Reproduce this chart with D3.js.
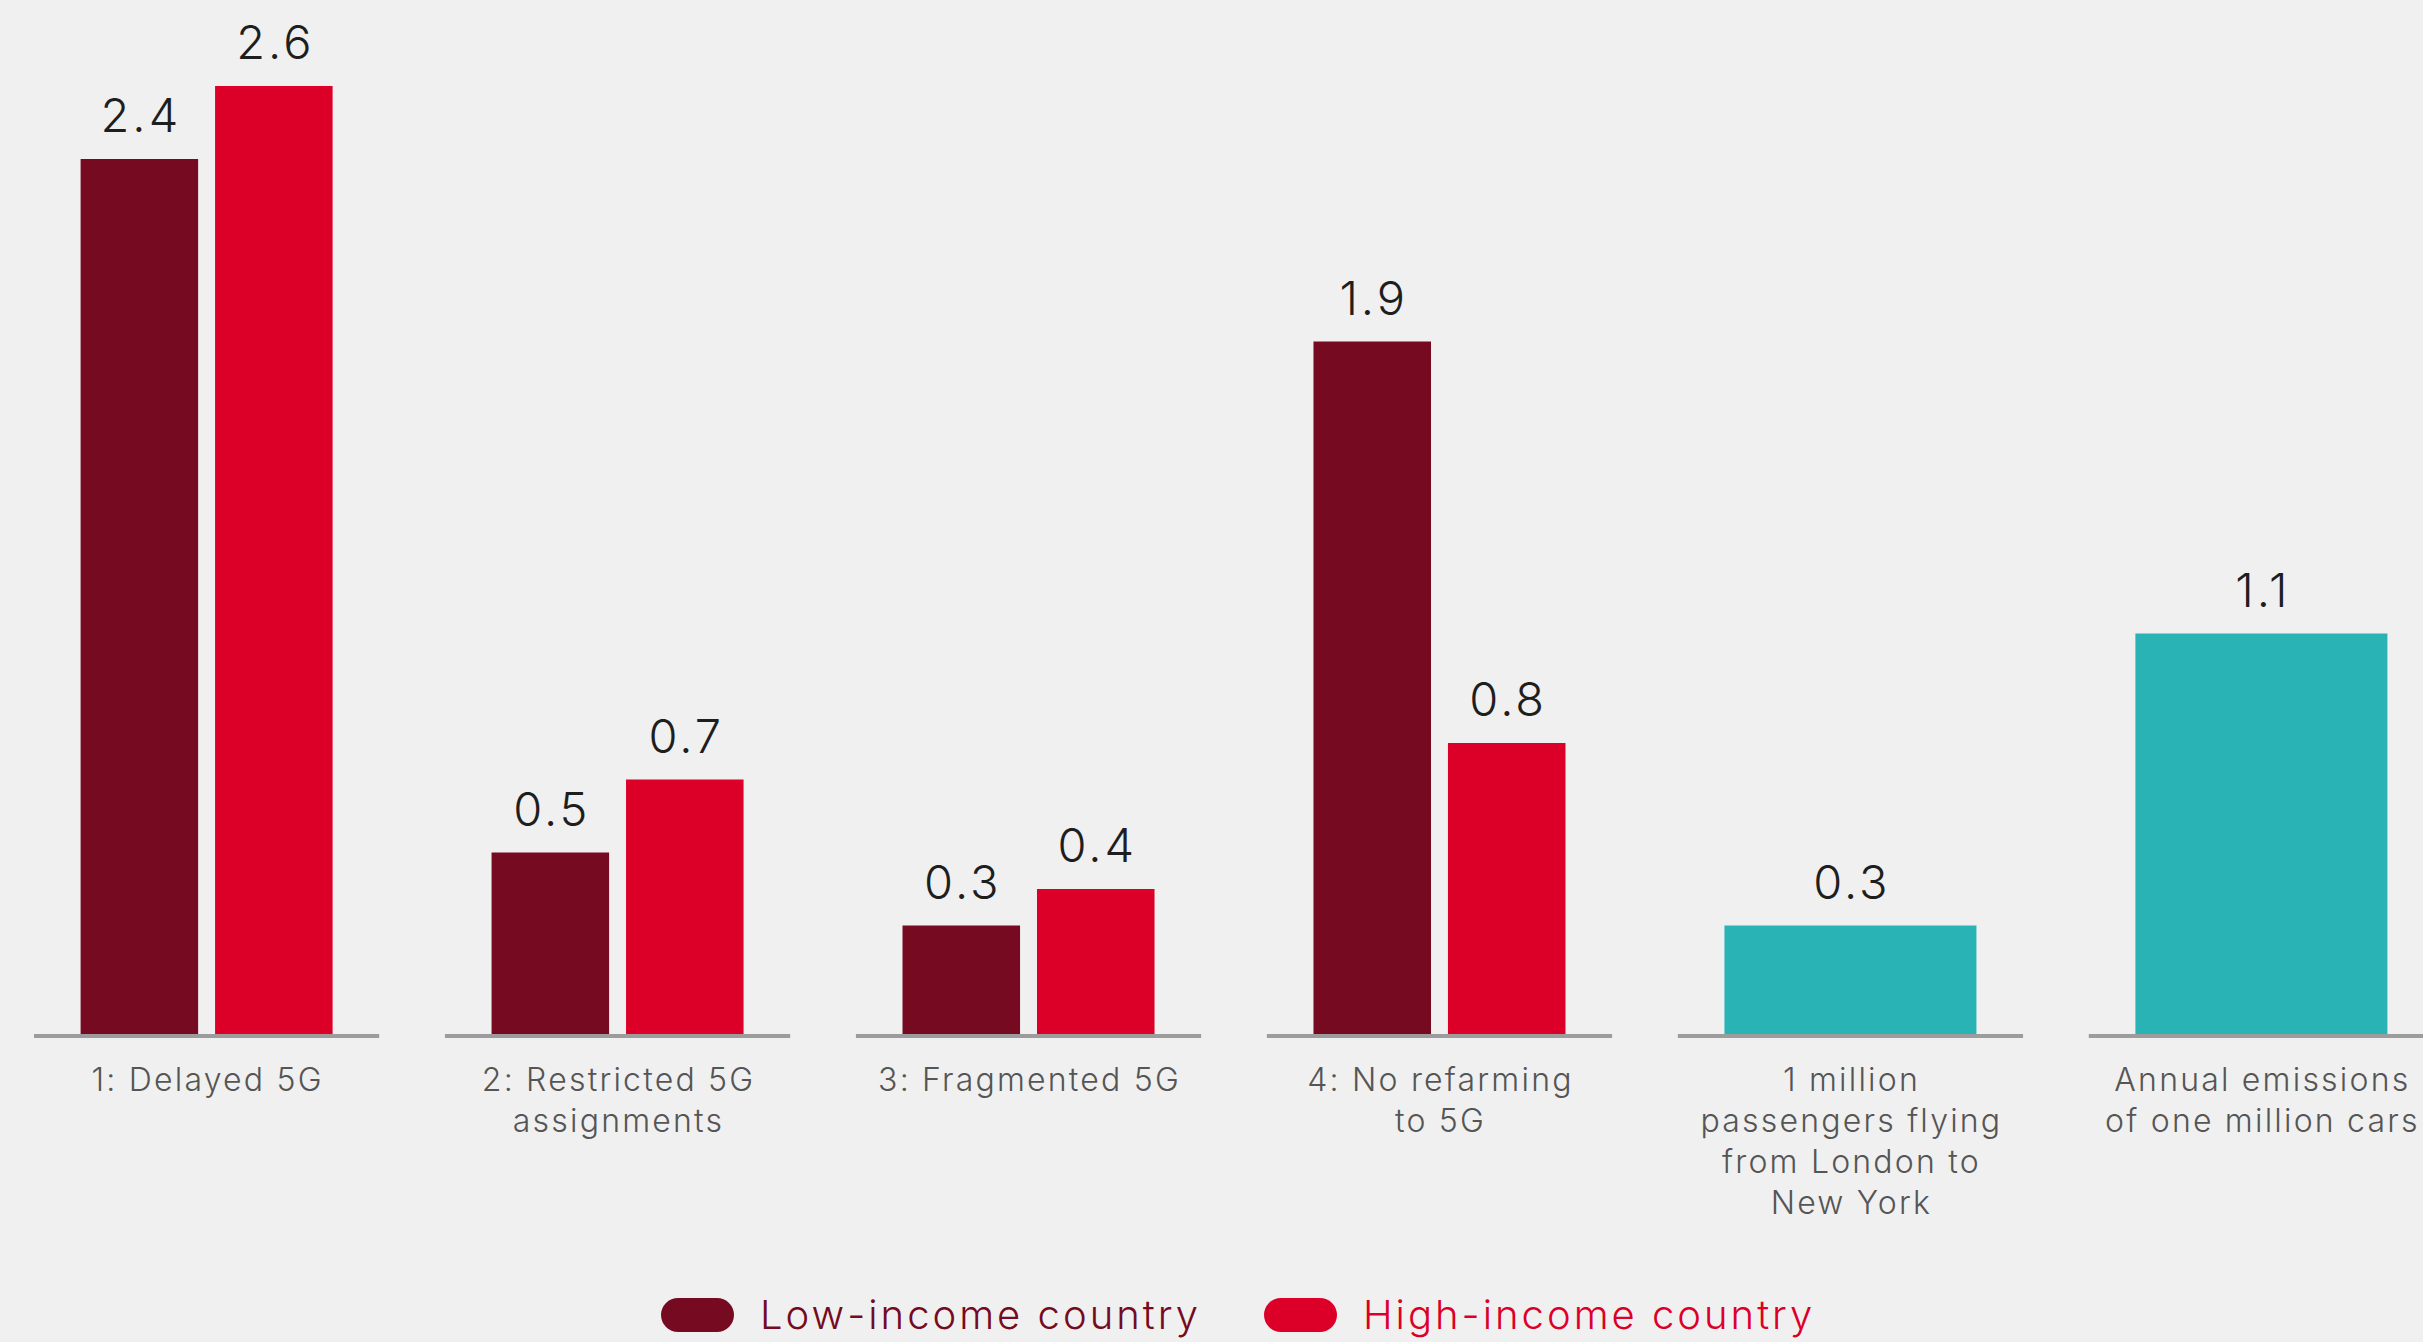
<!DOCTYPE html>
<html>
<head>
<meta charset="utf-8">
<script src="https://cdn.jsdelivr.net/npm/d3@7/dist/d3.min.js"></script>
<style>
  html, body { margin: 0; padding: 0; background: #f0f0f0; overflow: hidden; }
  svg { display: block; }
</style>
</head>
<body>
<svg id="chart" width="2423" height="1342"></svg>
<script>
// Categories (each label split into display lines)
const categories = [
  "1: Delayed 5G",
  "2: Restricted 5G assignments",
  "3: Fragmented 5G",
  "4: No refarming to 5G",
  "1 million passengers flying from London to New York",
  "Annual emissions of one million cars"
];
const categoryLines = [
  ["1: Delayed 5G"],
  ["2: Restricted 5G", "assignments"],
  ["3: Fragmented 5G"],
  ["4: No refarming", "to 5G"],
  ["1 million", "passengers flying", "from London to", "New York"],
  ["Annual emissions", "of one million cars"]
];

// Series values (null where a series has no bar)
const lowIncome  = [2.4, 0.5, 0.3, 1.9, null, null];
const highIncome = [2.6, 0.7, 0.4, 0.8, null, null];
const comparison = [null, null, null, null, 0.3, 1.1];

const seriesNames = ["Low-income country", "High-income country"];
const colors = { low: "#750a20", high: "#dc0029", comp: "#2ab3b4" };

const svg = d3.select("#chart");
const baseY = 1035;

const x = d3.scaleBand()
  .domain(categories)
  .range([34, 2434])
  .paddingInner(0.16)
  .paddingOuter(0);

const bw = x.bandwidth();
const inset = (bw - 252) / 2;

const xSub = d3.scaleBand()
  .domain(["low", "high"])
  .range([inset, bw - inset])
  .paddingInner(0.126);

const y = d3.scaleLinear().domain([0, 2.6]).range([baseY, 86]);

const FONT = "Inter, 'Open Sans', sans-serif";

// Build bar records
const bars = [];
categories.forEach((c, i) => {
  if (lowIncome[i] != null) bars.push({ cat: c, key: "low", v: lowIncome[i], x0: x(c) + xSub("low"), w: xSub.bandwidth() });
  if (highIncome[i] != null) bars.push({ cat: c, key: "high", v: highIncome[i], x0: x(c) + xSub("high"), w: xSub.bandwidth() });
  if (comparison[i] != null) bars.push({ cat: c, key: "comp", v: comparison[i], x0: x(c) + inset, w: bw - 2 * inset });
});

const g = svg.append("g");

g.selectAll("rect.bar").data(bars).join("rect")
  .attr("class", "bar")
  .attr("x", d => d.x0)
  .attr("width", d => d.w)
  .attr("y", d => y(d.v))
  .attr("height", d => baseY - y(d.v))
  .attr("fill", d => colors[d.key]);

// Baseline segments per group
g.selectAll("line.base").data(categories).join("line")
  .attr("class", "base")
  .attr("x1", d => x(d))
  .attr("x2", d => x(d) + bw)
  .attr("y1", baseY + 1)
  .attr("y2", baseY + 1)
  .attr("stroke", "#9c9c9c")
  .attr("stroke-width", 4);

// Value labels
g.selectAll("text.val").data(bars).join("text")
  .attr("class", "val")
  .attr("x", d => d.x0 + d.w / 2 + 1.5)
  .attr("y", d => y(d.v) - 27)
  .attr("text-anchor", "middle")
  .attr("font-family", FONT)
  .attr("font-size", 47)
  .attr("font-weight", 300)
  .attr("letter-spacing", 3)
  .attr("fill", "#1e1e1e")
  .text(d => d3.format(".1f")(d.v));

// Category labels
const catG = g.selectAll("text.cat").data(categories).join("text")
  .attr("class", "cat")
  .attr("text-anchor", "middle")
  .attr("font-family", FONT)
  .attr("font-size", 32)
  .attr("font-weight", 300)
  .attr("letter-spacing", 2.2)
  .attr("fill", "#555555");
catG.each(function (c, i) {
  d3.select(this).selectAll("tspan").data(categoryLines[i]).join("tspan")
    .attr("x", x(c) + bw / 2 + 1)
    .attr("y", (d, j) => 1091 + j * 41)
    .text(d => d);
});

// Legend
const legend = svg.append("g");
const legendItems = [
  { name: seriesNames[0], color: colors.low, x: 661 },
  { name: seriesNames[1], color: colors.high, x: 1264 }
];
const lg = legend.selectAll("g").data(legendItems).join("g")
  .attr("transform", d => `translate(${d.x},1315)`);
lg.append("rect")
  .attr("x", 0).attr("y", -17)
  .attr("width", 73).attr("height", 34)
  .attr("rx", 17)
  .attr("fill", d => d.color);
lg.append("text")
  .attr("x", 99).attr("y", 14)
  .attr("font-family", FONT)
  .attr("font-size", 40)
  .attr("font-weight", 300)
  .attr("letter-spacing", 3)
  .attr("fill", d => d.color)
  .text(d => d.name);
</script>
</body>
</html>
